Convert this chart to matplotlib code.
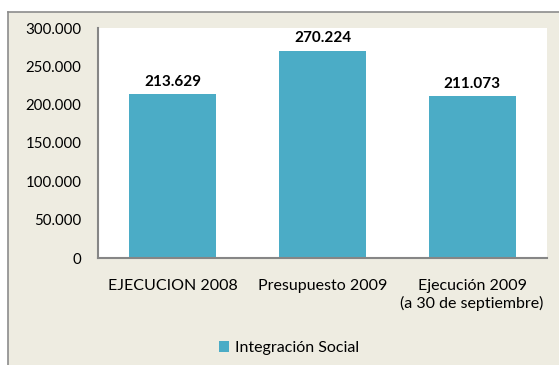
import matplotlib.pyplot as plt
from matplotlib.patches import Rectangle
from matplotlib.ticker import FuncFormatter

plt.rcParams['font.family'] = ['Lato', 'DejaVu Sans']

categorias = ['EJECUCION 2008', 'Presupuesto 2009', 'Ejecución 2009\n(a 30 de septiembre)']
valores = [213629, 270224, 211073]
serie = 'Integración Social'
yticks = [0, 50000, 100000, 150000, 200000, 250000, 300000]

W, H = 559, 365
fig = plt.figure(figsize=(W / 100, H / 100), dpi=100)
fig.patch.set_facecolor('white')

# fondo del area del grafico, con borde gris solo arriba e izquierda
fondo = '#EEECE1'
fig.patches.append(Rectangle((8 / W, 0), 1, 1 - 12 / H, transform=fig.transFigure,
                             facecolor=fondo, edgecolor='none', zorder=-5))
fig.lines.append(plt.Line2D([8 / W, 8 / W], [0, 1 - 12 / H], transform=fig.transFigure,
                            color='#8c8c8c', lw=1.2))
fig.lines.append(plt.Line2D([8 / W, 1], [1 - 12 / H, 1 - 12 / H], transform=fig.transFigure,
                            color='#8c8c8c', lw=1.2))

ax = fig.add_axes([98 / W, 1 - 258 / H, (547 - 98) / W, (258 - 28) / H])
ax.set_facecolor('white')

x = range(len(categorias))
barras = ax.bar(x, valores, width=0.58, color='#4BACC6', label=serie, zorder=2)

for b, v in zip(barras, valores):
    ax.text(b.get_x() + b.get_width() / 2, v + 7000, f'{v:,}'.replace(',', '.'),
            ha='center', va='bottom', fontsize=11, fontweight='bold', color='black')

ax.set_xlim(-0.5, 2.5)
ax.set_ylim(0, 300000)
ax.set_yticks(yticks)
ax.yaxis.set_major_formatter(FuncFormatter(lambda v, p: f'{int(v):,}'.replace(',', '.')))
ax.set_xticks(list(x))
ax.set_xticklabels(categorias, linespacing=1.25)
ax.tick_params(axis='both', length=0, colors='black')
ax.tick_params(axis='y', pad=12, labelsize=10.8)
ax.tick_params(axis='x', pad=15, labelsize=11.5)

for lado in ['top', 'right']:
    ax.spines[lado].set_visible(False)
for lado in ['left', 'bottom']:
    ax.spines[lado].set_color('#868686')
    ax.spines[lado].set_linewidth(1.5)

fig.legend(handles=[barras], labels=[serie], loc='center', bbox_to_anchor=(289 / W, 1 - 348 / H),
           frameon=False, fontsize=11.5, handlelength=0.65, handleheight=0.65, handletextpad=0.4)

fig.savefig('out.png', dpi=100, facecolor=fig.get_facecolor())
